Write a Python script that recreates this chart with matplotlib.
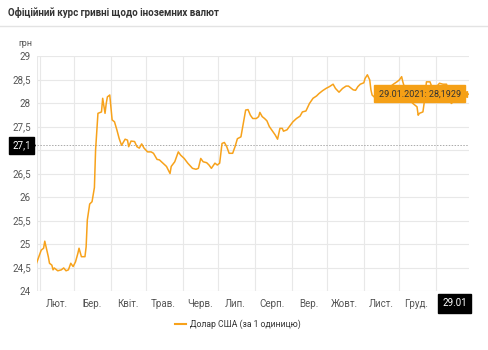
import matplotlib
matplotlib.use("Agg")
import matplotlib.pyplot as plt
import matplotlib.dates as mdates
from matplotlib.lines import Line2D
from matplotlib.ticker import FixedLocator, FuncFormatter, NullFormatter
import numpy as np
import pandas as pd

plt.rcParams['font.family'] = ['Roboto', 'DejaVu Sans']

title = "Офіційний курс гривні щодо іноземних валют"
unit_label = "грн"
series_name = "Долар США (за 1 одиницю)"
month_labels = ["Лют.", "Бер.", "Квіт.", "Трав.", "Черв.", "Лип.", "Серп.", "Вер.", "Жовт.", "Лист.", "Груд."]
end_label = "29.01"
tooltip_label = "29.01.2021: 28,1929"
ref_value = 27.1
ref_label = "27,1"

dates = [
    "2020-01-29", "2020-02-02", "2020-02-04", "2020-02-05", "2020-02-08", "2020-02-09",
    "2020-02-11", "2020-02-12", "2020-02-13", "2020-02-16", "2020-02-19", "2020-02-21",
    "2020-02-23", "2020-02-25", "2020-02-27", "2020-02-29", "2020-03-02", "2020-03-04",
    "2020-03-05", "2020-03-07", "2020-03-10", "2020-03-11", "2020-03-12", "2020-03-14",
    "2020-03-16", "2020-03-18", "2020-03-19", "2020-03-21", "2020-03-24", "2020-03-25",
    "2020-03-27", "2020-03-28", "2020-03-29", "2020-03-31", "2020-04-02", "2020-04-04",
    "2020-04-06", "2020-04-08", "2020-04-10", "2020-04-13", "2020-04-15", "2020-04-16",
    "2020-04-18", "2020-04-21", "2020-04-23", "2020-04-25", "2020-04-27", "2020-04-29",
    "2020-05-02", "2020-05-05", "2020-05-07", "2020-05-10", "2020-05-12", "2020-05-15",
    "2020-05-18", "2020-05-21", "2020-05-22", "2020-05-25", "2020-05-28", "2020-05-30",
    "2020-06-02", "2020-06-05", "2020-06-09", "2020-06-12", "2020-06-14", "2020-06-16",
    "2020-06-18", "2020-06-21", "2020-06-23", "2020-06-25", "2020-06-28", "2020-06-30",
    "2020-07-02", "2020-07-04", "2020-07-06", "2020-07-08", "2020-07-10", "2020-07-13",
    "2020-07-15", "2020-07-17", "2020-07-20", "2020-07-22", "2020-07-24", "2020-07-26",
    "2020-07-28", "2020-07-30", "2020-08-02", "2020-08-04", "2020-08-05", "2020-08-07",
    "2020-08-09", "2020-08-11", "2020-08-13", "2020-08-16", "2020-08-18", "2020-08-20",
    "2020-08-22", "2020-08-24", "2020-08-25", "2020-08-28", "2020-08-30", "2020-09-02",
    "2020-09-05", "2020-09-08", "2020-09-10", "2020-09-13", "2020-09-16", "2020-09-19",
    "2020-09-22", "2020-09-24", "2020-09-27", "2020-09-30", "2020-10-03", "2020-10-06",
    "2020-10-08", "2020-10-11", "2020-10-14", "2020-10-17", "2020-10-19", "2020-10-23",
    "2020-10-25", "2020-10-27", "2020-10-29", "2020-11-01", "2020-11-02", "2020-11-04",
    "2020-11-06", "2020-11-07", "2020-11-08", "2020-11-11", "2020-11-14", "2020-11-18",
    "2020-11-21", "2020-11-26", "2020-11-29", "2020-12-01", "2020-12-03", "2020-12-04",
    "2020-12-07", "2020-12-10", "2020-12-13", "2020-12-16", "2020-12-17", "2020-12-18",
    "2020-12-21", "2020-12-22", "2020-12-24", "2020-12-27", "2020-12-28", "2020-12-31",
    "2021-01-04", "2021-01-07", "2021-01-10", "2021-01-12", "2021-01-14", "2021-01-17",
    "2021-01-21", "2021-01-24", "2021-01-27", "2021-01-29",
]
usd_rate = [
    24.59, 24.87, 24.91, 25.06, 24.73, 24.59,
    24.55, 24.45, 24.49, 24.43, 24.45, 24.49,
    24.43, 24.45, 24.59, 24.52, 24.62, 24.80,
    24.91, 24.73, 24.73, 24.94, 25.51, 25.85,
    25.90, 26.20, 27.00, 27.78, 27.81, 28.10,
    27.78, 27.99, 28.13, 28.17, 27.64, 27.60,
    27.43, 27.24, 27.10, 27.23, 27.21, 27.07,
    27.19, 27.18, 27.07, 27.04, 27.13, 27.04,
    26.96, 26.96, 26.93, 26.80, 26.79, 26.72,
    26.65, 26.50, 26.65, 26.75, 26.96, 26.89,
    26.82, 26.72, 26.61, 26.59, 26.61, 26.82,
    26.75, 26.73, 26.68, 26.61, 26.72, 26.68,
    26.72, 27.14, 27.16, 27.07, 26.93, 26.93,
    27.07, 27.24, 27.28, 27.57, 27.85, 27.86,
    27.74, 27.67, 27.67, 27.71, 27.80, 27.71,
    27.67, 27.62, 27.50, 27.39, 27.32, 27.23,
    27.46, 27.46, 27.40, 27.43, 27.50, 27.60,
    27.67, 27.72, 27.81, 27.83, 27.99, 28.10,
    28.15, 28.20, 28.26, 28.31, 28.35, 28.40,
    28.31, 28.23, 28.31, 28.36, 28.36, 28.28,
    28.27, 28.35, 28.40, 28.43, 28.52, 28.60,
    28.49, 28.28, 28.17, 28.10, 28.15, 28.25,
    28.30, 28.40, 28.45, 28.49, 28.56, 28.45,
    28.20, 28.05, 27.98, 27.92, 27.74, 27.78,
    27.81, 27.99, 28.45, 28.45, 28.38, 28.30,
    28.42, 28.40, 28.40, 28.20, 27.99, 28.05,
    28.10, 28.15, 28.17, 28.1929,
]

W, H = 488, 350
fig = plt.figure(figsize=(W / 100, H / 100), dpi=100)
fig.patch.set_facecolor("white")

ax = fig.add_axes([36.5 / W, 1 - 291 / H, (469 - 36.5) / W, (291 - 56) / H])
x = pd.to_datetime(dates)
orange = "#F7A21B"
ax.plot(x, usd_rate, color=orange, lw=1.1, solid_joinstyle="round", zorder=3)

ax.set_ylim(24, 29)
ax.set_xlim(x[0], x[-1])
for s in ax.spines.values():
    s.set_visible(False)

# y ticks (the 27 label is hidden under the reference-line marker box)
yt = np.arange(24, 29.01, 0.5)
ax.set_yticks(yt)


def yfmt(v, p):
    if abs(v - 27.0) < 1e-9:
        return ""
    return (f"{v:g}").replace(".", ",")


ax.yaxis.set_major_formatter(FuncFormatter(yfmt))
ax.tick_params(axis="y", length=0, pad=4, labelsize=7, labelcolor="#555555")

# x ticks: month starts (grid) & mid-months (labels)
month_starts = pd.date_range("2020-02-01", "2021-01-01", freq="MS")
mids = [ms + pd.Timedelta(days=14.5) for ms in month_starts[:-1]]
ax.xaxis.set_major_locator(FixedLocator(mdates.date2num(month_starts)))
ax.xaxis.set_major_formatter(NullFormatter())
ax.xaxis.set_minor_locator(FixedLocator(mdates.date2num(mids)))
ax.set_xticklabels(month_labels, minor=True)
ax.tick_params(axis="x", which="both", length=0)
ax.tick_params(axis="x", which="minor", pad=6, labelsize=7, labelcolor="#555555")

ax.grid(True, which="major", color="#e8e8e8", lw=0.8, zorder=0)
ax.axvline(x[0], color="#e8e8e8", lw=0.8, zorder=0)

# reference dotted line
ax.axhline(ref_value, color="#aaaaaa", lw=0.7, ls=(0, (1.5, 1.5)), zorder=2)

# 27,1 label box
ytrans = ax.get_yaxis_transform()
ax.text(-0.013, ref_value, ref_label, transform=ytrans, ha="right", va="center",
        fontsize=7, color="white",
        bbox=dict(boxstyle="square,pad=0.35", fc="black", ec="black"), zorder=6, clip_on=False)
ax.plot([-0.011], [ref_value], marker=">", ms=4, color="black", transform=ytrans,
        clip_on=False, zorder=6)

# tooltip
ax.annotate(tooltip_label, xy=(x[-1], usd_rate[-1]), xytext=(-6, 0), textcoords="offset points",
            ha="right", va="center", fontsize=6.5, color="#333333",
            bbox=dict(boxstyle="square,pad=0.45", fc="#F5A016", ec="#F5A016"), zorder=7)
ax.plot([x[-1]], [usd_rate[-1]], marker="<", ms=5, color="#F5A016",
        transform=ax.transData + matplotlib.transforms.ScaledTranslation(-3.5 / 72, 0, fig.dpi_scale_trans),
        clip_on=False, zorder=7)

# end date box
xtrans = ax.get_xaxis_transform()
ax.text(x[-1] - pd.Timedelta(days=2), -0.052, end_label, transform=xtrans, ha="right", va="center",
        fontsize=7, color="white",
        bbox=dict(boxstyle="square,pad=0.45", fc="black", ec="black"), zorder=6, clip_on=False)

# unit
fig.text(32 / W, 1 - 44 / H, unit_label, ha="right", va="center", fontsize=6.5, color="#555555")

# title & separator
fig.text(8 / W, 1 - 13 / H, title, ha="left", va="center", fontsize=7, fontweight="bold", color="#333333")
fig.add_artist(Line2D([0, 1], [1 - 25.5 / H] * 2, color="#e3e3e3", lw=1))

# legend
fig.add_artist(Line2D([175 / W, 186 / W], [1 - 324 / H] * 2, color=orange, lw=1.5))
fig.text(190 / W, 1 - 324 / H, series_name, ha="left", va="center", fontsize=6.2, color="#333333")

fig.savefig("out.png", dpi=100)
